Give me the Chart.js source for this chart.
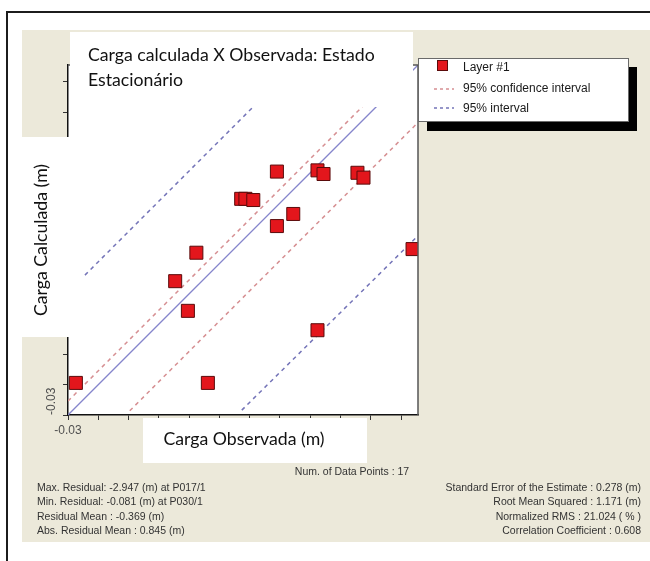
<!DOCTYPE html>
<html>
<head>
<meta charset="utf-8">
<script src="https://cdn.jsdelivr.net/npm/chart.js@4/dist/chart.umd.min.js"></script>
<style>
  html, body { margin: 0; padding: 0; background: #fff; }
  canvas { display: block; }
</style>
</head>
<body>
<canvas id="chart" width="650" height="561"></canvas>
<script>
// Heads at the observation points (m)
const observed   = [0.10, 2.28, 4.09, 1.95, 1.74, 2.09, 5.66, 3.42, 3.69, 2.83, 2.90, 3.03, 3.42, 4.09, 4.19, 4.75, 4.85];
const calculated = [0.50, 0.50, 1.37, 1.69, 2.18, 2.65, 2.71, 3.09, 3.29, 3.54, 3.54, 3.52, 3.99, 4.01, 3.95, 3.97, 3.89];

// Axis range and tick marks (every 0.5 m from the minimum)
const axisMin = -0.03;
const axisMax = 5.75;
const tickValues = [-0.03, 0.47, 0.97, 1.47, 1.97, 2.47, 2.97, 3.47, 3.97, 4.47, 4.97, 5.47];
const tickLabels = ['-0.03'];

// Reference lines: perfect fit and the two bands around the mean residual
const perfectX   = [-0.03, 5.75];
const perfectY   = [-0.03, 5.75];
const confHighX  = [-0.03, 5.52];
const confHighY  = [0.20, 5.75];
const confLowX   = [0.99, 5.75];
const confLowY   = [0.04, 4.80];
const predHighX  = [0.25, 3.72];
const predHighY  = [2.28, 5.75];
const predLowX   = [2.84, 5.75];
const predLowY   = [0.05, 2.93];

// Summary statistics printed under the plot
const statsLeft = [
  'Max. Residual: -2.947 (m) at P017/1',
  'Min. Residual: -0.081 (m) at P030/1',
  'Residual Mean : -0.369 (m)',
  'Abs. Residual Mean : 0.845 (m)'
];
const statsRight = [
  'Standard Error of the Estimate : 0.278 (m)',
  'Root Mean Squared : 1.171 (m)',
  'Normalized RMS : 21.024 ( % )',
  'Correlation Coefficient : 0.608'
];
const statsCount = 'Num. of Data Points : 17';

const titleLines = ['Carga calculada X Observada: Estado', 'Estacionário'];
const xTitle = 'Carga Observada (m)';
const yTitle = 'Carga Calculada (m)';
const legendLabels = ['Layer #1', '95% confidence interval', '95% interval'];

const pointRed = '#e3161c';
const pointEdge = '#5a0b0b';
const confColor = '#d68f92';
const predColor = '#7474b8';
const fitColor = '#8585cc';

const labelFont = '17.7px Lato, "Open Sans", sans-serif';
const statsFont = '10.5px "Liberation Sans", Arial, sans-serif';
const legendFont = '12px "Liberation Sans", Arial, sans-serif';

const pairs = (xs, ys) => xs.map((x, i) => ({ x, y: ys[i] }));

const decor = {
  id: 'decor',
  beforeDraw(chart) {
    const { ctx, chartArea: a } = chart;
    ctx.save();
    ctx.fillStyle = '#ffffff';
    ctx.fillRect(0, 0, chart.width, chart.height);
    // beige panel
    ctx.fillStyle = '#ECE9DA';
    ctx.fillRect(22, 30, 628, 512);
    // outer frame
    ctx.fillStyle = '#1c1c1c';
    ctx.fillRect(6, 11, 644, 2);
    ctx.fillRect(6, 11, 2, 550);
    // plot area
    ctx.fillStyle = '#ffffff';
    ctx.fillRect(a.left, a.top, a.right - a.left, a.bottom - a.top);
    ctx.restore();
  },
  afterDatasetsDraw(chart) {
    const { ctx, chartArea: a } = chart;
    ctx.save();
    ctx.strokeStyle = '#555';
    ctx.lineWidth = 1.5;
    ctx.beginPath();
    ctx.moveTo(a.left, a.top);
    ctx.lineTo(a.right, a.top);
    ctx.lineTo(a.right, a.bottom);
    ctx.stroke();
    ctx.restore();
  },
  afterDraw(chart) {
    const { ctx, chartArea: a, scales } = chart;
    const xs = scales.x, ys = scales.y;
    ctx.save();

    // tick labels at the origin
    ctx.fillStyle = '#505050';
    ctx.font = '12px "Liberation Sans", Arial, sans-serif';
    ctx.textAlign = 'center';
    ctx.textBaseline = 'middle';
    ctx.fillText(tickLabels[0], xs.getPixelForValue(tickValues[0]), a.bottom + 16);
    ctx.save();
    ctx.translate(a.left - 16, ys.getPixelForValue(tickValues[0]));
    ctx.rotate(-Math.PI / 2);
    ctx.textAlign = 'left';
    ctx.fillText(tickLabels[0], 0, 0);
    ctx.restore();

    // title panel
    ctx.fillStyle = '#ffffff';
    ctx.fillRect(70, 32, 343, 75);
    ctx.fillStyle = '#111';
    ctx.font = labelFont;
    ctx.textAlign = 'left';
    ctx.textBaseline = 'alphabetic';
    ctx.fillText(titleLines[0], 88, 61);
    ctx.fillText(titleLines[1], 88, 86);

    // y title panel
    ctx.fillStyle = '#ffffff';
    ctx.fillRect(9, 137, 60, 200);
    ctx.save();
    ctx.translate(41, 240);
    ctx.rotate(-Math.PI / 2);
    ctx.fillStyle = '#111';
    ctx.textAlign = 'center';
    ctx.textBaseline = 'middle';
    ctx.fillText(yTitle, 0, 0);
    ctx.restore();

    // x title panel
    ctx.fillStyle = '#ffffff';
    ctx.fillRect(143, 418, 224, 45);
    ctx.fillStyle = '#111';
    ctx.textAlign = 'center';
    ctx.textBaseline = 'middle';
    ctx.fillText(xTitle, 244, 439);

    // legend with drop shadow
    ctx.fillStyle = '#000';
    ctx.fillRect(427, 67, 210, 64);
    ctx.fillStyle = '#fff';
    ctx.fillRect(418, 58, 210, 63);
    ctx.strokeStyle = '#6a6a6a';
    ctx.lineWidth = 1;
    ctx.strokeRect(418.5, 58.5, 210, 63);

    ctx.fillStyle = pointRed;
    ctx.fillRect(437, 60, 11, 11);
    ctx.strokeStyle = pointEdge;
    ctx.strokeRect(437.5, 60.5, 10, 10);

    ctx.lineWidth = 1.5;
    ctx.setLineDash([3, 3]);
    ctx.strokeStyle = confColor;
    ctx.beginPath(); ctx.moveTo(434, 89); ctx.lineTo(454, 89); ctx.stroke();
    ctx.strokeStyle = predColor;
    ctx.beginPath(); ctx.moveTo(434, 108); ctx.lineTo(454, 108); ctx.stroke();
    ctx.setLineDash([]);

    ctx.fillStyle = '#1a1a1a';
    ctx.font = legendFont;
    ctx.textAlign = 'left';
    ctx.textBaseline = 'middle';
    ctx.fillText(legendLabels[0], 463, 68);
    ctx.fillText(legendLabels[1], 463, 89);
    ctx.fillText(legendLabels[2], 463, 109);

    // statistics
    ctx.fillStyle = '#333';
    ctx.font = statsFont;
    ctx.textAlign = 'center';
    ctx.fillText(statsCount, 352, 472);
    ctx.textAlign = 'left';
    statsLeft.forEach((t, i) => ctx.fillText(t, 37, 488 + i * 14.5));
    ctx.textAlign = 'right';
    statsRight.forEach((t, i) => ctx.fillText(t, 641, 488 + i * 14.5));

    ctx.restore();
  }
};

const lineSet = (data, color, dash, width) => ({
  type: 'scatter',
  data,
  showLine: true,
  borderColor: color,
  borderWidth: width,
  borderDash: dash,
  pointRadius: 0,
  pointHoverRadius: 0,
  fill: false,
  order: 1
});

const axis = {
  type: 'linear',
  min: axisMin,
  max: axisMax,
  bounds: 'data',
  afterBuildTicks(scale) {
    scale.ticks = tickValues.map(v => ({ value: v }));
  },
  ticks: { display: false },
  grid: {
    display: true,
    drawOnChartArea: false,
    drawTicks: true,
    tickLength: 5,
    color: '#333',
    lineWidth: 1
  },
  border: { display: true, color: '#111', width: 1.5 }
};

new Chart(document.getElementById('chart'), {
  type: 'scatter',
  data: {
    datasets: [
      {
        label: legendLabels[0],
        data: pairs(observed, calculated),
        pointStyle: 'rect',
        pointRadius: 9.2,
        pointHoverRadius: 9.2,
        backgroundColor: pointRed,
        borderColor: pointEdge,
        borderWidth: 1,
        order: 0
      },
      lineSet(pairs(perfectX, perfectY), fitColor, [], 1.3),
      lineSet(pairs(confHighX, confHighY), confColor, [4, 4], 1.5),
      lineSet(pairs(confLowX, confLowY), confColor, [4, 4], 1.5),
      lineSet(pairs(predHighX, predHighY), predColor, [4, 4], 1.5),
      lineSet(pairs(predLowX, predLowY), predColor, [4, 4], 1.5)
    ]
  },
  options: {
    responsive: false,
    animation: false,
    events: [],
    layout: { padding: { left: 63, right: 232, top: 65, bottom: 141 } },
    scales: { x: axis, y: axis },
    plugins: {
      legend: { display: false },
      tooltip: { enabled: false },
      title: { display: false }
    }
  },
  plugins: [decor]
});
</script>
</body>
</html>
